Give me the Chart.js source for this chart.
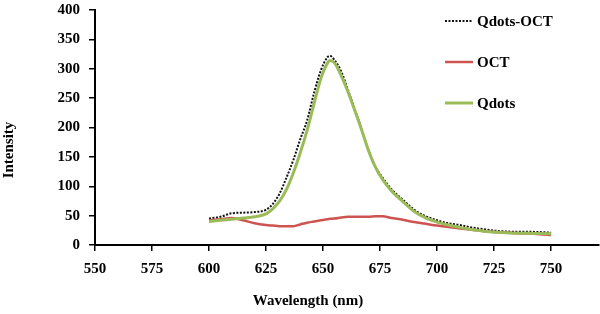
<!DOCTYPE html>
<html>
<head>
  <title>Emission spectra</title>
  <script src="https://cdn.jsdelivr.net/npm/chart.js"></script>
  <style>
    body { margin: 0; background: #fff; }
  </style>
</head>
<body>
  <canvas id="myChart" width="600" height="314"></canvas>

  <script>
    // wavelengths (nm)
    const wavelengths = [600, 605, 610, 615, 620, 625, 628, 631, 634, 637, 640, 643, 646, 649, 652, 653, 655, 658, 661, 664,
      667, 670, 673, 676, 680, 685, 690, 695, 700, 705, 710, 715, 720, 725, 730, 735, 740, 745, 750];

    const qdotsOct = [45, 48, 54, 55, 56, 60, 70, 88, 115, 145, 180, 212, 258, 297, 320, 322, 315, 295, 263, 230,
      196, 160, 133, 115, 95, 77, 60, 49, 42, 37, 34, 30, 27, 24.5, 23, 22.5, 22.5, 22, 21];

    const oct = [42, 44, 46, 42, 37, 34, 33, 32, 32, 32, 35, 38, 40, 42, 44, 44.5, 45, 47, 48, 48,
      48, 48, 49, 49, 46, 43, 39, 36, 33, 30.5, 28, 26, 24, 22, 21, 20, 19.5, 18.5, 17];

    const qdots = [40, 42, 44, 46, 48, 53, 62, 75, 95, 123, 157, 195, 240, 283, 310, 314, 310, 288, 260, 228,
      195, 160, 132, 112, 92, 74, 57, 46, 39, 34, 30, 26.5, 24, 22, 21, 20, 20, 19.5, 19];

    const seriesNames = ['Qdots-OCT', 'OCT', 'Qdots'];

    const toPoints = vals => vals.map((v, i) => ({ x: wavelengths[i], y: v }));
    const serif = { family: 'Liberation Serif', size: 15, weight: 'bold' };

    // legend on the right, one row per series
    const sideLegend = {
      id: 'sideLegend',
      afterDraw(chart) {
        const ctx = chart.ctx;
        const rows = [21, 62, 103];
        ctx.save();
        chart.data.datasets.forEach((ds, i) => {
          ctx.beginPath();
          ctx.strokeStyle = ds.borderColor;
          ctx.lineWidth = ds.borderWidth;
          ctx.setLineDash(ds.borderDash || []);
          ctx.moveTo(445, rows[i]);
          ctx.lineTo(473, rows[i]);
          ctx.stroke();
          ctx.setLineDash([]);
          ctx.fillStyle = '#000';
          ctx.font = 'bold 15px "Liberation Serif"';
          ctx.textAlign = 'left';
          ctx.textBaseline = 'middle';
          ctx.fillText(ds.label, 477, rows[i] + 1);
        });

        // axis titles
        ctx.textAlign = 'center';
        ctx.fillText('Wavelength (nm)', 308, 301);
        ctx.translate(9, 150);
        ctx.rotate(-Math.PI / 2);
        ctx.fillText('Intensity', 0, 0);
        ctx.restore();
      }
    };

    const ctx = document.getElementById('myChart').getContext('2d');
    const myChart = new Chart(ctx, {
      type: 'line',
      data: {
        datasets: [{
          label: seriesNames[0],
          data: toPoints(qdotsOct),
          borderColor: '#111',
          borderWidth: 2,
          borderDash: [2, 1.5],
          pointRadius: 0,
          cubicInterpolationMode: 'monotone',
          order: 3
        }, {
          label: seriesNames[1],
          data: toPoints(oct),
          borderColor: '#cd5450',
          borderWidth: 2.5,
          pointRadius: 0,
          cubicInterpolationMode: 'monotone',
          order: 2
        }, {
          label: seriesNames[2],
          data: toPoints(qdots),
          borderColor: '#9bbb59',
          borderWidth: 3,
          pointRadius: 0,
          cubicInterpolationMode: 'monotone',
          order: 1
        }]
      },
      options: {
        responsive: false,
        animation: false,
        layout: { padding: { top: 10, right: 1, left: 0, bottom: 0 } },
        plugins: { legend: { display: false }, tooltip: { enabled: false } },
        scales: {
          x: {
            type: 'linear',
            min: 550,
            max: 771,
            ticks: { stepSize: 25, color: '#000', font: serif, padding: 9, maxRotation: 0 },
            afterBuildTicks: scale => { scale.ticks = scale.ticks.filter(t => t.value % 25 === 0); },
            afterFit: scale => { scale.height = 69; scale.paddingLeft = 0; scale.paddingRight = 0; },
            grid: { drawOnChartArea: false, drawTicks: true, tickLength: 6, color: '#000', lineWidth: 1.5 },
            border: { color: '#000', width: 2 }
          },
          y: {
            min: 0,
            max: 400,
            ticks: { stepSize: 50, color: '#000', font: serif, padding: 9 },
            afterFit: scale => { scale.width = 95; scale.paddingTop = 0; scale.paddingBottom = 0; },
            grid: { drawOnChartArea: false, drawTicks: true, tickLength: 6, color: '#000', lineWidth: 1.5 },
            border: { color: '#000', width: 2 }
          }
        }
      },
      plugins: [sideLegend]
    });
  </script>
</body>
</html>
